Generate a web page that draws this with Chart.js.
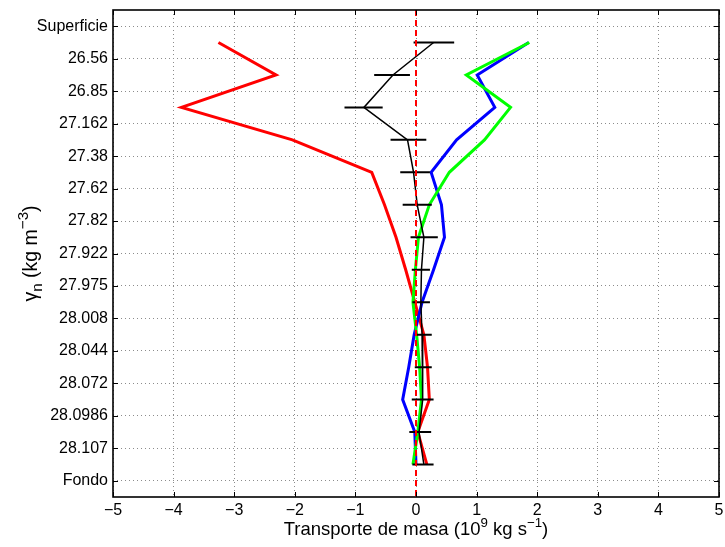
<!DOCTYPE html>
<html>
<head>
<meta charset="utf-8">
<script src="https://cdn.jsdelivr.net/npm/chart.js@4.4.0/dist/chart.umd.min.js"></script>
<style>
html,body{margin:0;padding:0;background:#fff;}
#wrap{width:725px;height:547px;position:relative;}
</style>
</head>
<body>
<div id="wrap"><canvas id="c" width="725" height="547"></canvas></div>
<script>
// ---- data ----
const layerLabels = ['Superficie','26.56','26.85','27.162','27.38','27.62','27.82','27.922',
  '27.975','28.008','28.044','28.072','28.0986','28.107','Fondo'];
const xTickValues = [-5,-4,-3,-2,-1,0,1,2,3,4,5];
// one value per layer (between consecutive labels), top to bottom
const redSeries   = [-3.26,-2.31,-3.87,-2.04,-0.73,-0.52,-0.33,-0.17,-0.02,0.13,0.19,0.22,0.03,0.18];
const blueSeries  = [1.86,1.01,1.30,0.67,0.25,0.42,0.47,0.29,0.10,-0.03,-0.12,-0.22,-0.02,0.00];
const greenSeries = [1.87,0.83,1.56,1.13,0.55,0.22,0.04,-0.01,-0.05,0.01,0.06,0.09,0.03,-0.05];
const blackMean   = [0.29,-0.38,-0.86,-0.14,-0.04,0.02,0.13,0.09,0.08,0.10,0.11,0.11,0.05,0.13];
const blackLow    = [-0.04,-0.69,-1.18,-0.42,-0.26,-0.22,-0.09,-0.07,-0.06,-0.02,-0.02,-0.07,-0.11,-0.06];
const blackHigh   = [0.63,-0.10,-0.55,0.17,0.23,0.26,0.36,0.23,0.23,0.26,0.26,0.29,0.25,0.29];

// layer i sits halfway between label i and label i+1
const layerPos = i => i + 0.5;
const toPts = arr => arr.map((v,i)=>({x:v,y:layerPos(i)}));
const errPts = [];
blackLow.forEach((lo,i)=>{
  errPts.push({x:lo,y:layerPos(i)},{x:blackHigh[i],y:layerPos(i)},{x:null,y:null});
});

const FONT = '"Liberation Sans", Arial, Helvetica, sans-serif';

function layoutRuns(ctx, runs, size, supScale){
  let w = 0;
  const parts = runs.map(r=>{
    const fs = r.s ? size*supScale : size;
    ctx.font = fs + 'px ' + FONT;
    const tw = ctx.measureText(r.t).width;
    const p = {t:r.t, fs, dy: r.s===1 ? -size*0.45 : (r.s===-1 ? size*0.28 : 0), x:w};
    w += tw;
    return p;
  });
  return {w, parts};
}
function renderRuns(ctx, layout){
  layout.parts.forEach(p=>{
    ctx.font = p.fs + 'px ' + FONT;
    ctx.fillText(p.t, p.x, p.dy);
  });
}

const framePlugin = {
  id:'frame',
  afterDraw(chart){
    const {ctx, chartArea:a, scales} = chart;
    ctx.save();
    ctx.strokeStyle = '#000';
    ctx.lineWidth = 1;
    const tl = 5;
    ctx.beginPath();
    xTickValues.forEach(v=>{
      const px = Math.round(scales.x.getPixelForValue(v)) + 0.5;
      ctx.moveTo(px, a.bottom); ctx.lineTo(px, a.bottom - tl);
      ctx.moveTo(px, a.top); ctx.lineTo(px, a.top + tl);
    });
    layerLabels.forEach((_,i)=>{
      const py = Math.round(scales.y.getPixelForValue(i)) + 0.5;
      ctx.moveTo(a.left, py); ctx.lineTo(a.left + tl, py);
      ctx.moveTo(a.right, py); ctx.lineTo(a.right - tl, py);
    });
    ctx.stroke();
    ctx.lineWidth = 1.6;
    ctx.strokeRect(a.left, a.top, a.right - a.left, a.bottom - a.top);

    // axis titles
    ctx.fillStyle = '#000';
    ctx.textBaseline = 'alphabetic';
    ctx.textAlign = 'left';
    const xt = layoutRuns(ctx, [
      {t:'Transporte de masa (10',s:0},{t:'9',s:1},{t:' kg s',s:0},{t:'\u22121',s:1},{t:')',s:0}
    ], 18.5, 0.72);
    ctx.save();
    ctx.translate((a.left + a.right)/2 - xt.w/2, 535);
    renderRuns(ctx, xt);
    ctx.restore();

    const yt = layoutRuns(ctx, [
      {t:'\u03B3',s:0},{t:'n',s:-1},{t:' (kg m',s:0},{t:'\u22123',s:1},{t:')',s:0}
    ], 19.5, 0.78);
    ctx.save();
    ctx.translate(37, (a.top + a.bottom)/2 + yt.w/2);
    ctx.rotate(-Math.PI/2);
    renderRuns(ctx, yt);
    ctx.restore();
    ctx.restore();
  }
};

new Chart(document.getElementById('c'), {
  type:'scatter',
  data:{
    datasets:[
      {label:'cero', data:[{x:0,y:-0.5},{x:0,y:14.5}], showLine:true, borderColor:'#ff0000',
       borderWidth:2, borderDash:[6,4], pointRadius:0},
      {label:'error', data:errPts, showLine:true, spanGaps:false, borderColor:'#000',
       borderWidth:2, pointRadius:0},
      {label:'media', data:toPts(blackMean), showLine:true, borderColor:'#000', borderWidth:1.5, pointRadius:0},
      {label:'verde', data:toPts(greenSeries), showLine:true, borderColor:'#00ff00', borderWidth:3, pointRadius:0},
      {label:'azul', data:toPts(blueSeries), showLine:true, borderColor:'#0000ff', borderWidth:3, pointRadius:0},
      {label:'rojo', data:toPts(redSeries), showLine:true, borderColor:'#ff0000', borderWidth:3, pointRadius:0}
    ]
  },
  options:{
    responsive:false,
    devicePixelRatio:1,
    animation:false,
    layout:{padding:{left:0,right:6,top:10,bottom:0}},
    plugins:{legend:{display:false}, tooltip:{enabled:false}},
    scales:{
      x:{
        type:'linear', min:-5, max:5,
        afterBuildTicks(s){ s.ticks = xTickValues.map(v=>({value:v})); },
        afterFit(s){ s.height = 50; s.paddingLeft = 0; s.paddingRight = 0; },
        ticks:{color:'#000', font:{family:FONT,size:16}, padding:4,
          callback:v => v<0 ? '\u2212'+Math.abs(v) : String(v)},
        grid:{color:'#8c8c8c', lineWidth:1, drawTicks:false},
        border:{display:false, dash:[1,3]}
      },
      y:{
        type:'linear', min:-0.5, max:14.5, reverse:true,
        afterBuildTicks(s){ s.ticks = layerLabels.map((_,i)=>({value:i})); },
        afterFit(s){ s.width = 113; s.paddingTop = 0; s.paddingBottom = 0; },
        ticks:{color:'#000', font:{family:FONT,size:16}, padding:5,
          callback:v => layerLabels[Math.round(v)]},
        grid:{color:'#8c8c8c', lineWidth:1, drawTicks:false},
        border:{display:false, dash:[1,3]}
      }
    }
  },
  plugins:[framePlugin]
});
</script>
</body>
</html>
